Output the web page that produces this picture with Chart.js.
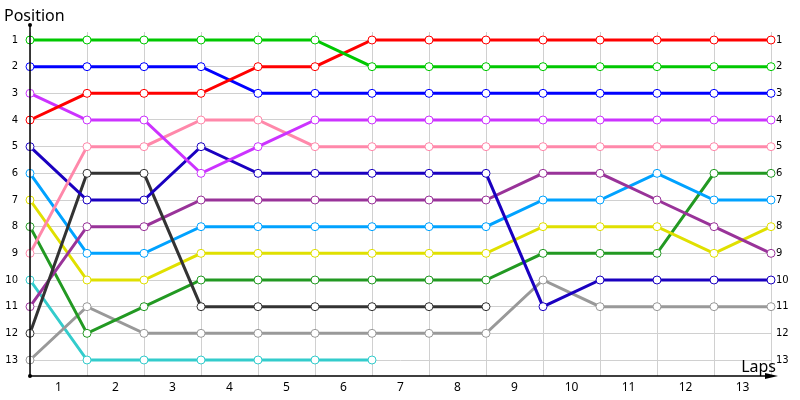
<!DOCTYPE html>
<html>
<head>
<meta charset="utf-8">
<script src="https://cdn.jsdelivr.net/npm/chart.js@4"></script>
<style>
  html, body { margin: 0; padding: 0; background: #fff; }
  #wrap { width: 800px; height: 400px; }
</style>
</head>
<body>
<div id="wrap"><canvas id="chart"></canvas></div>
<script>
// Dados do gráfico
const laps = [0, 1, 2, 3, 4, 5, 6, 7, 8, 9, 10, 11, 12, 13];
const lapLabels = ['1', '2', '3', '4', '5', '6', '7', '8', '9', '10', '11', '12', '13'];
const positions = [1, 2, 3, 4, 5, 6, 7, 8, 9, 10, 11, 12, 13];

const greenPos     = [1, 1, 1, 1, 1, 1, 2, 2, 2, 2, 2, 2, 2, 2];
const redPos       = [4, 3, 3, 3, 2, 2, 1, 1, 1, 1, 1, 1, 1, 1];
const bluePos      = [2, 2, 2, 2, 3, 3, 3, 3, 3, 3, 3, 3, 3, 3];
const violetPos    = [3, 4, 4, 6, 5, 4, 4, 4, 4, 4, 4, 4, 4, 4];
const pinkPos      = [9, 5, 5, 4, 4, 5, 5, 5, 5, 5, 5, 5, 5, 5];
const navyPos      = [5, 7, 7, 5, 6, 6, 6, 6, 6, 11, 10, 10, 10, 10];
const blackPos     = [12, 6, 6, 11, 11, 11, 11, 11, 11, null, null, null, null, null];
const purplePos    = [11, 8, 8, 7, 7, 7, 7, 7, 7, 6, 6, 7, 8, 9];
const skyPos       = [6, 9, 9, 8, 8, 8, 8, 8, 8, 7, 7, 6, 7, 7];
const yellowPos    = [7, 10, 10, 9, 9, 9, 9, 9, 9, 8, 8, 8, 9, 8];
const darkGreenPos = [8, 12, 11, 10, 10, 10, 10, 10, 10, 9, 9, 9, 6, 6];
const grayPos      = [13, 11, 12, 12, 12, 12, 12, 12, 12, 10, 11, 11, 11, 11];
const cyanPos      = [10, 13, 13, 13, 13, 13, 13, null, null, null, null, null, null, null];

const series = [
    { data: greenPos, color: '#00c800' },
    { data: redPos, color: '#ff0000' },
    { data: bluePos, color: '#0000ff' },
    { data: violetPos, color: '#cc33ff' },
    { data: pinkPos, color: '#ff88aa' },
    { data: navyPos, color: '#1a00c0' },
    { data: blackPos, color: '#333333' },
    { data: purplePos, color: '#993399' },
    { data: skyPos, color: '#00a2ff' },
    { data: yellowPos, color: '#e0e000' },
    { data: darkGreenPos, color: '#229922' },
    { data: grayPos, color: '#999999' },
    { data: cyanPos, color: '#33cccc' }
];

const datasets = series.map(s => ({
    data: laps.map((lap, i) => ({ x: lap, y: s.data[i] })),
    borderColor: s.color,
    borderWidth: 3,
    pointRadius: 4,
    pointBorderWidth: 1,
    pointBackgroundColor: '#ffffff',
    pointBorderColor: s.color,
    tension: 0,
    spanGaps: false,
    clip: false
}));

// Eixos com seta, ponto e títulos
const eixosPlugin = {
    id: 'eixos',
    afterDraw(chart) {
        const { ctx, chartArea } = chart;
        const left = chartArea.left, bottom = chartArea.bottom;
        ctx.save();
        ctx.strokeStyle = '#000';
        ctx.fillStyle = '#000';
        ctx.lineWidth = 1.5;
        ctx.beginPath();
        ctx.moveTo(left, 25);
        ctx.lineTo(left, bottom);
        ctx.lineTo(770, bottom);
        ctx.stroke();
        // seta
        ctx.beginPath();
        ctx.moveTo(778, bottom);
        ctx.lineTo(765, bottom - 3);
        ctx.lineTo(765, bottom + 3);
        ctx.closePath();
        ctx.fill();
        // pontos
        ctx.beginPath();
        ctx.arc(left, 25, 2, 0, Math.PI * 2);
        ctx.fill();
        ctx.beginPath();
        ctx.arc(left, bottom, 2, 0, Math.PI * 2);
        ctx.fill();
        // títulos
        ctx.font = '16px "Noto Sans"';
        ctx.textBaseline = 'alphabetic';
        ctx.textAlign = 'left';
        ctx.fillText('Position', 4, 21);
        ctx.textAlign = 'right';
        ctx.fillText('Laps', 776, 372);
        ctx.restore();
    }
};

new Chart(document.getElementById('chart'), {
    type: 'line',
    data: { datasets },
    plugins: [eixosPlugin],
    options: {
        responsive: true,
        maintainAspectRatio: false,
        animation: false,
        layout: { padding: { top: 32, left: 0, right: 0, bottom: 0 } },
        plugins: {
            legend: { display: false },
            tooltip: { enabled: false }
        },
        scales: {
            x: {
                type: 'linear',
                min: 0,
                max: 13,
                afterBuildTicks: axis => { axis.ticks = laps.map(v => ({ value: v })); },
                afterFit: axis => { axis.height = 24; },
                grid: { color: '#d0d0d0', drawTicks: false },
                border: { display: false },
                ticks: {
                    padding: 4,
                    labelOffset: 28.5,
                    maxRotation: 0,
                    autoSkip: false,
                    color: '#000',
                    font: { family: 'Noto Sans', size: 12 },
                    callback: (v, i) => lapLabels[i] || ''
                }
            },
            y: {
                type: 'linear',
                reverse: true,
                min: 0.7,
                max: 13.6,
                position: 'left',
                afterBuildTicks: axis => { axis.ticks = positions.map(v => ({ value: v })); },
                afterFit: axis => { axis.width = 30; },
                grid: { color: '#d0d0d0', drawTicks: false },
                border: { display: false },
                ticks: {
                    padding: 12,
                    color: '#000',
                    font: { family: 'DejaVu Sans', size: 10 },
                    callback: v => String(v)
                }
            },
            y2: {
                type: 'linear',
                reverse: true,
                min: 0.7,
                max: 13.6,
                position: 'right',
                afterBuildTicks: axis => { axis.ticks = positions.map(v => ({ value: v })); },
                afterFit: axis => { axis.width = 29; },
                grid: { display: false, drawTicks: false },
                border: { display: false },
                ticks: {
                    padding: 5,
                    color: '#000',
                    font: { family: 'DejaVu Sans', size: 10 },
                    callback: v => String(v)
                }
            }
        }
    }
});
</script>
</body>
</html>
